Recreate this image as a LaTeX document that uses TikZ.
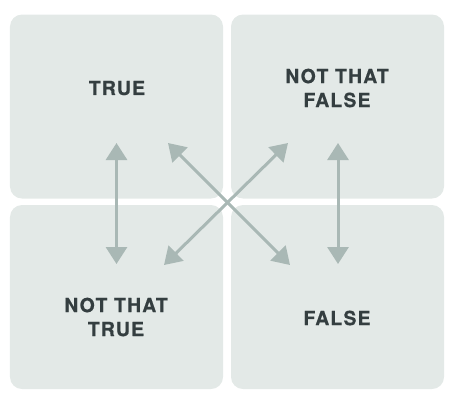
\documentclass[tikz,border=0pt]{standalone}
\usepackage{fontspec}
\newfontfamily\quadfont[LetterSpace=6, FakeBold=0.6]{TeX Gyre Heros}
\definecolor{quad_fill}{RGB}{227, 233, 231}
\definecolor{quad_arrow}{RGB}{169, 184, 181}
\definecolor{quad_text}{RGB}{52, 62, 64}
\usetikzlibrary{arrows.meta, positioning, calc}

\begin{document}
\begin{tikzpicture}[x=1bp, y=-1bp,
    quad/.style={fill=quad_fill, rounded corners=12bp, inner sep=0pt,
                 minimum width=213bp, minimum height=184bp},
    tag/.style={font=\quadfont\bfseries\fontsize{19.5}{24}\selectfont,
                text=quad_text, align=center},
    link/.style={{Triangle[length=17bp, width=21bp]}-{Triangle[length=17bp, width=21bp]},
                 line width=3bp, quad_arrow}]
          \useasboundingbox (0,0) rectangle (454,407);
          % the four quadrants
          \node[quad] (tl) at (116.5,106.5) {};
          \node[quad] (tr) at (337.5,106.5) {};
          \node[quad] (bl) at (116.5,297) {};
          \node[quad] (br) at (337.5,297) {};
          \node[tag] (true) at (117,88) {TRUE};
          \node[tag] (ntfalse) at (337,88) {NOT THAT\\FALSE};
          \node[tag] (nttrue) at (116,317) {NOT THAT\\TRUE};
          \node[tag] (false) at (337,318) {FALSE};
          % arrow ends
          \coordinate (tlv) at (116.5,143);
          \coordinate (blv) at (116.5,264);
          \coordinate (trv) at (338,143);
          \coordinate (brv) at (338,264);
          \coordinate (tld) at (168,143);
          \coordinate (brd) at (290,265);
          \coordinate (trd) at (288,143);
          \coordinate (bld) at (164,265);
          \draw[link] (tlv) -- (blv);
          \draw[link] (trv) -- (brv);
          \draw[link] (tld) -- (brd);
          \draw[link] (trd) -- (bld);
        \end{tikzpicture}
\end{document}
